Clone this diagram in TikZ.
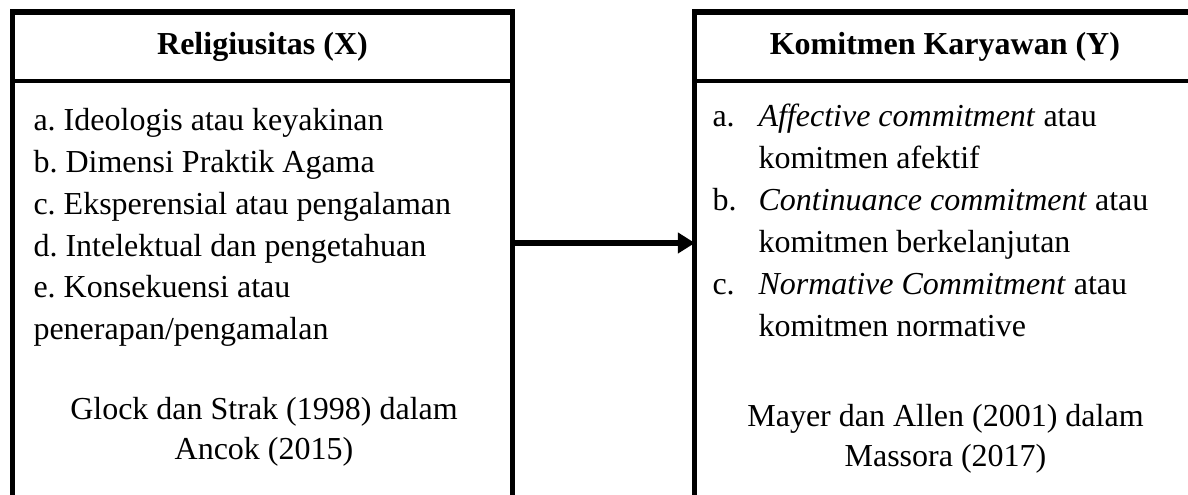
\documentclass[tikz,border=0pt]{standalone}
\usepackage{fontspec}
\setmainfont{Liberation Serif}
\usetikzlibrary{positioning,arrows.meta}

\begin{document}
\frenchspacing
\begin{tikzpicture}[
            x=0.375pt, y=-0.375pt,
            box/.style={rectangle, draw, line width=1.9pt, minimum width=187.5pt, minimum height=200pt, inner sep=0pt, outer sep=0pt},
            head/.style={rectangle, minimum width=187.5pt, minimum height=25.875pt, inner sep=0pt, outer sep=0pt, font=\bfseries\fontsize{12}{14}\selectfont},
            sep/.style={line width=1.5pt},
            list/.style={inner sep=0pt, anchor=base west, font=\fontsize{12}{15.7}\selectfont},
            source/.style={inner sep=0pt, anchor=base, font=\fontsize{12}{14.8}\selectfont},
            arrow/.style={-{Triangle[length=6.4pt, width=7.5pt]}, line width=2.2pt}
        ]
        \clip (0,0) rectangle (1188,495);

        % variabel X
        \node[box, anchor=north west] (relbox) at (12.5,12) {};
        \node[head, below=0pt of relbox.north] (relhead) {Religiusitas (X)};
        \draw[sep] (relhead.south west) -- (relhead.south east);
        \node[list] (relitems) at (33,130.5) {\begin{tabular}[t]{@{}l@{}}
            a. Ideologis atau keyakinan\\
            b. Dimensi Praktik Agama\\
            c. Eksperensial atau pengalaman\\
            d. Intelektual dan pengetahuan\\
            e. Konsekuensi atau\\
            penerapan/pengamalan
        \end{tabular}};
        \node[source] (relsrc) at (264,420) {\begin{tabular}[t]{@{}c@{}}
            Glock dan Strak (1998) dalam\\
            Ancok (2015)
        \end{tabular}};

        % variabel Y
        \node[box, right=68.4pt of relbox] (kombox) {};
        \node[head, below=0pt of kombox.north] (komhead) {Komitmen Karyawan (Y)};
        \draw[sep] (komhead.south west) -- (komhead.south east);
        \node[list] (komitems) at (712,126.7) {\begin{tabular}[t]{@{}p{17.25pt}@{}l@{}}
            a. & \textit{Affective commitment} atau\\
               & komitmen afektif\\
            b. & \textit{Continuance commitment} atau\\
               & komitmen berkelanjutan\\
            c. & \textit{Normative Commitment} atau\\
               & komitmen normative
        \end{tabular}};
        \node[source] (komsrc) at (945.5,427) {\begin{tabular}[t]{@{}c@{}}
            Mayer dan Allen (2001) dalam\\
            Massora (2017)
        \end{tabular}};

        \coordinate (mid) at (0,243);
        \draw[arrow] (relbox.east |- mid) -- (kombox.west |- mid);
        \end{tikzpicture}
\end{document}
